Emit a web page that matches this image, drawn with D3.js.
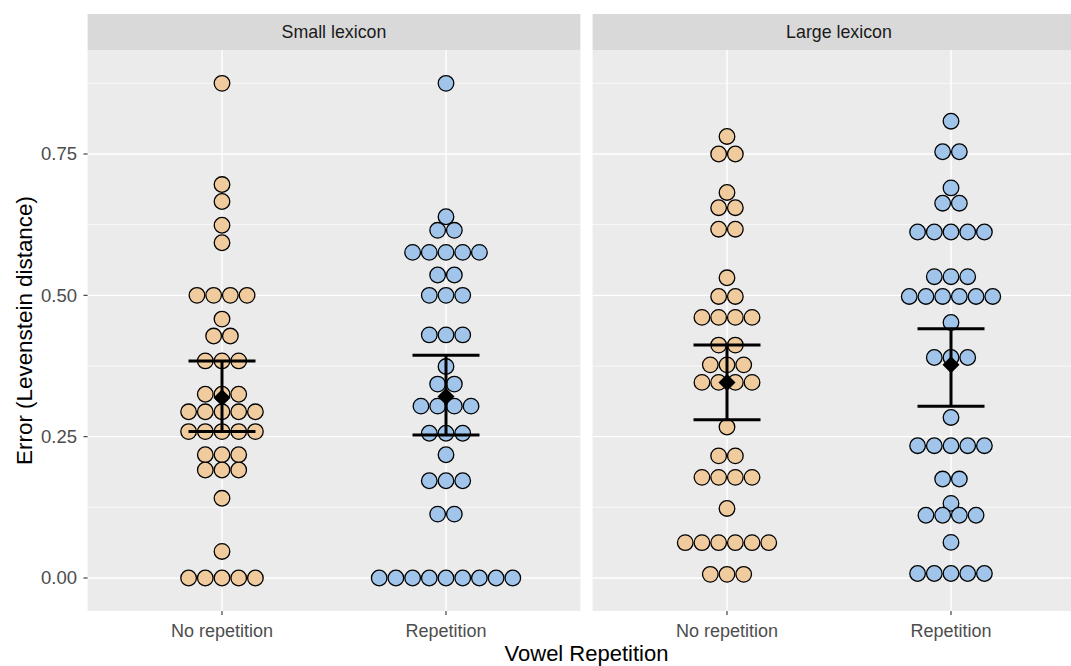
<!DOCTYPE html>
<html><head><meta charset="utf-8">
<script src="https://cdn.jsdelivr.net/npm/d3@7"></script>
<style>body{margin:0;background:#fff}svg{display:block;font-family:"Liberation Sans",Arial,sans-serif}</style>
</head><body><svg id="c" width="1071" height="666"></svg>
<script>
const facets = ["Small lexicon", "Large lexicon"];
const categories = ["No repetition", "Repetition"];
const yTicks = [0, 0.25, 0.5, 0.75];
const yTickLabels = ["0.00", "0.25", "0.50", "0.75"];

// observations per facet/category
const smallNoRep = [0.875,0.696,0.666,0.624,0.593,0.5,0.5,0.5,0.5,0.458,0.428,0.428,0.384,0.384,0.384,
  0.325,0.325,0.325,0.294,0.294,0.294,0.294,0.294,0.259,0.259,0.259,0.259,0.259,0.218,0.218,0.218,
  0.191,0.191,0.191,0.141,0.047,0,0,0,0,0];
const smallRep = [0.875,0.639,0.615,0.615,0.576,0.576,0.576,0.576,0.576,0.536,0.536,0.5,0.5,0.5,
  0.430,0.430,0.430,0.374,0.343,0.343,0.304,0.304,0.304,0.304,0.256,0.256,0.256,0.218,0.172,0.172,0.172,
  0.113,0.113,0,0,0,0,0,0,0,0,0];
const largeNoRep = [0.781,0.750,0.750,0.682,0.655,0.655,0.617,0.617,0.531,0.498,0.498,0.461,0.461,0.461,0.461,
  0.412,0.412,0.377,0.377,0.377,0.346,0.346,0.346,0.346,0.267,0.216,0.216,0.178,0.178,0.178,0.178,0.123,
  0.0625,0.0625,0.0625,0.0625,0.0625,0.0625,0.0065,0.0065,0.0065];
const largeRep = [0.808,0.754,0.754,0.690,0.663,0.663,0.612,0.612,0.612,0.612,0.612,0.533,0.533,0.533,
  0.498,0.498,0.498,0.498,0.498,0.498,0.452,0.390,0.390,0.390,0.284,0.234,0.234,0.234,0.234,0.234,
  0.175,0.175,0.132,0.111,0.111,0.111,0.111,0.063,0.008,0.008,0.008,0.008,0.008];

// summary (mean and interval) per facet, per category
const meanSmall = [0.319, 0.321], lowSmall = [0.259, 0.253], highSmall = [0.384, 0.394];
const meanLarge = [0.346, 0.377], lowLarge = [0.280, 0.304], highLarge = [0.412, 0.441];

const fills = ["#F0CB9E", "#A0C4EA"];

const panels = [
  {name: facets[0], groups: [smallNoRep, smallRep], mean: meanSmall, low: lowSmall, high: highSmall},
  {name: facets[1], groups: [largeNoRep, largeRep], mean: meanLarge, low: lowLarge, high: highLarge}
];

const svg = d3.select("#c");
const panelTop = 50, panelBottom = 611, stripTop = 14;
const panelLefts = [87.6, 592.6], panelW = 492.8;
const y = d3.scaleLinear().domain([0, 0.75]).range([578, 154]);
const minor = [0.125, 0.375, 0.625, 0.875];
const spacing = 16.7, r = 7.8;

panels.forEach((p, pi) => {
  const x0 = panelLefts[pi];
  const x = d3.scalePoint().domain(categories).range([x0, x0 + panelW]).padding(0.6);
  const g = svg.append("g");
  g.append("rect").attr("x", x0).attr("y", stripTop).attr("width", panelW).attr("height", panelTop - stripTop).attr("fill", "#d9d9d9");
  g.append("text").attr("x", x0 + panelW / 2).attr("y", (stripTop + panelTop) / 2).attr("dy", "0.35em")
    .attr("text-anchor", "middle").attr("font-size", 17.8).attr("fill", "#1a1a1a").text(p.name);
  g.append("rect").attr("x", x0).attr("y", panelTop).attr("width", panelW).attr("height", panelBottom - panelTop).attr("fill", "#ebebeb");
  minor.forEach(v => g.append("line").attr("x1", x0).attr("x2", x0 + panelW).attr("y1", y(v)).attr("y2", y(v)).attr("stroke", "#fff").attr("stroke-width", 0.7));
  yTicks.forEach(v => g.append("line").attr("x1", x0).attr("x2", x0 + panelW).attr("y1", y(v)).attr("y2", y(v)).attr("stroke", "#fff").attr("stroke-width", 1.4));
  categories.forEach(c => g.append("line").attr("x1", x(c)).attr("x2", x(c)).attr("y1", panelTop).attr("y2", panelBottom).attr("stroke", "#fff").attr("stroke-width", 1.4));

  // dots
  p.groups.forEach((vals, ci) => {
    const cx = x(categories[ci]);
    const rows = d3.groups(vals, v => v);
    const pts = [];
    rows.forEach(([v, arr]) => {
      arr.forEach((_, i) => pts.push({v, off: (i - (arr.length - 1) / 2) * spacing}));
    });
    g.append("g").selectAll("circle").data(pts).join("circle")
      .attr("cx", d => cx + d.off).attr("cy", d => y(d.v)).attr("r", r)
      .attr("fill", fills[ci]).attr("stroke", "#000").attr("stroke-width", 1.3);
  });

  // summary
  categories.forEach((c, ci) => {
    const cx = x(c);
    const s = g.append("g");
    s.append("line").attr("x1", cx).attr("x2", cx).attr("y1", y(p.low[ci])).attr("y2", y(p.high[ci])).attr("stroke", "#000").attr("stroke-width", 3);
    [p.low[ci], p.high[ci]].forEach(v => s.append("line").attr("x1", cx - 33.5).attr("x2", cx + 33.5).attr("y1", y(v)).attr("y2", y(v)).attr("stroke", "#000").attr("stroke-width", 3));
    const my = y(p.mean[ci]);
    s.append("path").attr("d", `M${cx},${my - 8.5}L${cx + 8.5},${my}L${cx},${my + 8.5}L${cx - 8.5},${my}Z`).attr("fill", "#000");
  });

  // x axis
  categories.forEach(c => {
    svg.append("line").attr("x1", x(c)).attr("x2", x(c)).attr("y1", panelBottom).attr("y2", panelBottom + 4).attr("stroke", "#333").attr("stroke-width", 1.1);
    svg.append("text").attr("x", x(c)).attr("y", 631).attr("dy", "0.35em").attr("text-anchor", "middle")
      .attr("font-size", 18).attr("fill", "#4d4d4d").text(c);
  });
});

// y axis
yTicks.forEach((v, i) => {
  svg.append("line").attr("x1", 83.5).attr("x2", 87.6).attr("y1", y(v)).attr("y2", y(v)).attr("stroke", "#333").attr("stroke-width", 1.1);
  svg.append("text").attr("x", 77).attr("y", y(v)).attr("dy", "0.35em").attr("text-anchor", "end")
    .attr("font-size", 18.5).attr("fill", "#4d4d4d").text(yTickLabels[i]);
});
svg.append("text").attr("transform", `translate(24,${(panelTop + panelBottom) / 2}) rotate(-90)`).attr("dy", "0.35em")
  .attr("text-anchor", "middle").attr("font-size", 22.4).attr("fill", "#000").text("Error (Levenstein distance)");
svg.append("text").attr("x", (87.6 + 592.6 + panelW) / 2).attr("y", 661).attr("text-anchor", "middle")
  .attr("font-size", 22).attr("fill", "#000").text("Vowel Repetition");
</script></body></html>
